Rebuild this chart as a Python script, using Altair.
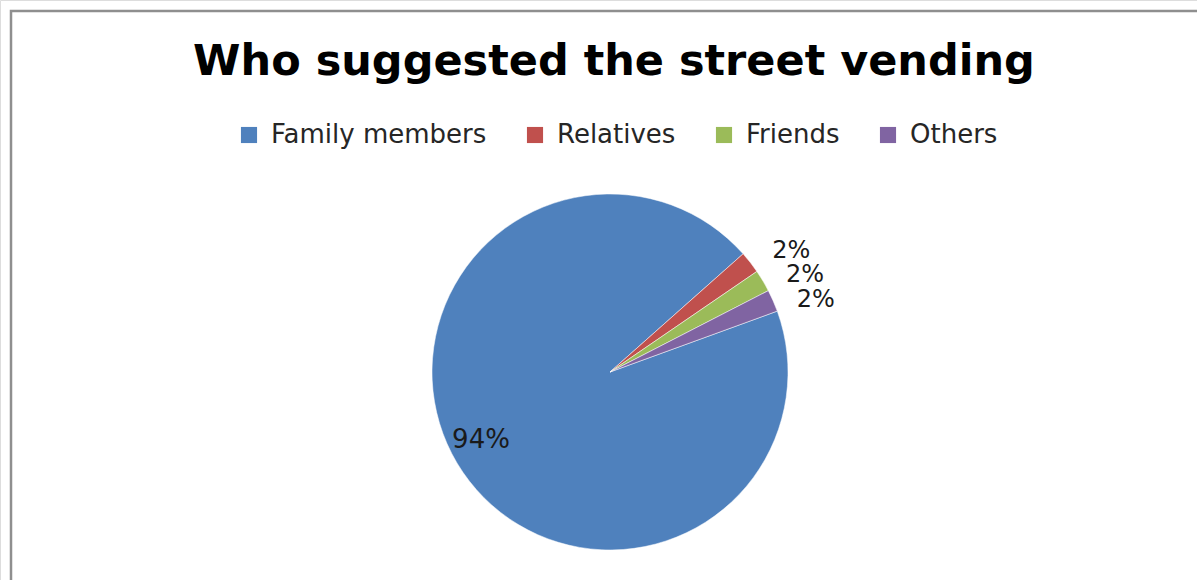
import math
import altair as alt
import pandas as pd

title_text = "Who suggested the street vending"
categories = ["Family members", "Relatives", "Friends", "Others"]
values = [94, 2, 2, 2]
labels = ["94%", "2%", "2%", "2%"]
colors = ["#4F81BD", "#C0504D", "#9BBB59", "#8064A2"]

df = pd.DataFrame({
    "category": categories,
    "value": values,
    "label": labels,
    "order": list(range(len(categories))),
})

start = math.radians(70)
theta_scale = alt.Scale(range=[start, start + 2 * math.pi])
color_scale = alt.Scale(domain=categories, range=colors)

CX, CY = 610, 372

base = alt.Chart(df).encode(
    theta=alt.Theta("value:Q", stack=True, scale=theta_scale),
    order=alt.Order("order:Q"),
)

pie = base.mark_arc(radius=178, stroke="white", strokeWidth=0.5).encode(
    x=alt.value(CX),
    y=alt.value(CY),
    color=alt.Color(
        "category:N",
        scale=color_scale,
        sort=categories,
        legend=alt.Legend(
            title=None,
            orient="none",
            legendX=236,
            legendY=122,
            direction="horizontal",
            symbolType="square",
            symbolSize=260,
            symbolStrokeWidth=0,
            labelFont="DejaVu Sans",
            labelFontSize=26,
            labelColor="#262626",
            labelLimit=0,
            labelOffset=9,
            columnPadding=35,
            padding=0,
        ),
    ),
)

big_label = base.transform_calculate(
    big_text="datum.value > 50 ? datum.label : ''"
).mark_text(
    radius=146, thetaOffset=0.05, font="DejaVu Sans", fontSize=26,
    color="#1a1a1a", align="center", baseline="middle",
).encode(x=alt.value(CX), y=alt.value(CY), text="big_text:N")

small_label = base.transform_calculate(
    small_text="datum.value < 50 ? datum.label : ''"
).mark_text(
    radius=218, thetaOffset=0.075, font="DejaVu Sans", fontSize=24,
    color="#1a1a1a", align="center", baseline="middle",
).encode(x=alt.value(CX), y=alt.value(CY), text="small_text:N")

border = alt.Chart(alt.Data(values=[{}])).mark_rect(
    fill=None, fillOpacity=0, stroke="#8f8f8f", strokeWidth=2.5
).encode(
    x=alt.value(11), x2=alt.value(1400), y=alt.value(11), y2=alt.value(900)
)

title = alt.Chart(alt.Data(values=[{"t": title_text}])).mark_text(
    font="DejaVu Sans", fontSize=43, fontWeight="bold", color="#000000",
    align="center", baseline="alphabetic",
).encode(x=alt.value(614), y=alt.value(75), text="t:N")

chart = alt.layer(border, title, pie, big_label, small_label).properties(
    width=1197,
    height=580,
    padding=0,
    autosize=alt.AutoSizeParams(type="none"),
).configure_view(stroke=None).configure(background="white")

chart.save("out.html", embed_options={"renderer": "svg", "actions": False})
